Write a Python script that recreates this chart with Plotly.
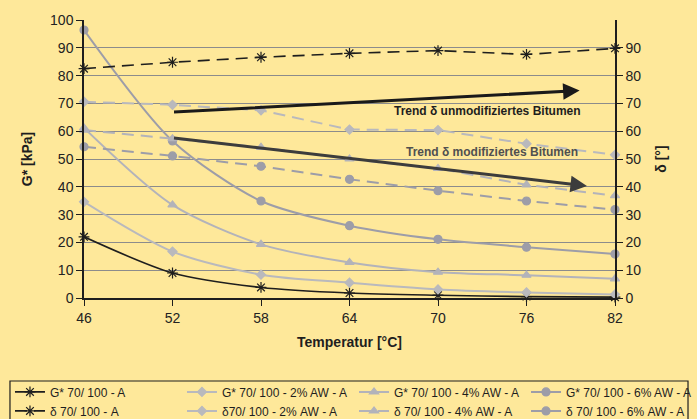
import plotly.graph_objects as go

temps = [46, 52, 58, 64, 70, 76, 82]

g_0 = [22.0, 9.0, 3.8, 1.8, 1.0, 0.5, 0.3]
g_2 = [34.6, 16.7, 8.4, 5.5, 3.1, 2.0, 1.3]
g_4 = [61.2, 33.5, 19.3, 12.8, 9.3, 8.2, 6.9]
g_6 = [96.4, 56.5, 34.9, 26.0, 21.1, 18.3, 15.8]

d_0 = [82.5, 84.8, 86.6, 88.0, 89.0, 87.6, 89.8]
d_2 = [70.6, 69.5, 67.5, 60.6, 60.4, 55.5, 51.5]
d_4 = [60.4, 57.3, 54.2, 50.0, 46.6, 40.7, 36.8]
d_6 = [54.4, 51.1, 47.4, 42.7, 38.6, 34.9, 31.8]

y_ticks_left = [0, 10, 20, 30, 40, 50, 60, 70, 80, 90, 100]
y_ticks_right = [0, 10, 20, 30, 40, 50, 60, 70, 80, 90]

names_g = ["G* 70/ 100 - A", "G* 70/ 100 - 2% AW - A", "G* 70/ 100 - 4% AW - A", "G* 70/ 100 - 6% AW - A"]
names_d = ["δ 70/ 100 - A", "δ70/ 100 - 2% AW - A", "δ 70/ 100 - 4% AW - A", "δ 70/ 100 - 6% AW - A"]
groups = ["p0", "p2", "p4", "p6"]
legend_ids = ["legend", "legend", "legend2", "legend2"]

trend_up = {"x0": 52, "y0": 66.9, "x1": 79.6, "y1": 74.6}
trend_down = {"x0": 52, "y0": 57.6, "x1": 80.1, "y1": 40.3}

BG = "#FEE89A"
C0 = "#1E1E1E"
C2 = "#B9B9BD"
C4 = "#B3B3BA"
C6 = "#9D9DA8"

fig = go.Figure()

styles = [
    (C0, "asterisk-open", 9, 1.6),
    (C2, "diamond", 7, 2),
    (C4, "triangle-up", 8, 2),
    (C6, "circle", 8, 2),
]

for vals, name, grp, lg, (col, sym, size, w) in zip([g_0, g_2, g_4, g_6], names_g, groups, legend_ids, styles):
    fig.add_trace(go.Scatter(
        x=temps, y=vals, name=name, mode="lines+markers", legendgroup=grp, legend=lg,
        line=dict(color=col, width=w, shape="spline", smoothing=0.8),
        marker=dict(symbol=sym, size=size, color=col, line=dict(color=col, width=1.2)),
        cliponaxis=False,
    ))

for vals, name, grp, lg, (col, sym, size, w) in zip([d_0, d_2, d_4, d_6], names_d, groups, legend_ids, styles):
    fig.add_trace(go.Scatter(
        x=temps, y=vals, name=name, mode="lines+markers", yaxis="y2", legendgroup=grp, legend=lg,
        line=dict(color=col, width=w, dash="12px,7px"),
        marker=dict(symbol=sym, size=size, color=col, line=dict(color=col, width=1.2)),
        cliponaxis=False,
    ))

fig.add_annotation(x=trend_up["x1"], y=trend_up["y1"], ax=trend_up["x0"], ay=trend_up["y0"],
                   xref="x", yref="y", axref="x", ayref="y", text="", showarrow=True,
                   arrowhead=2, arrowsize=1.1, arrowwidth=3, arrowcolor="#1A1A1A")
fig.add_annotation(x=trend_down["x1"], y=trend_down["y1"], ax=trend_down["x0"], ay=trend_down["y0"],
                   xref="x", yref="y", axref="x", ayref="y", text="", showarrow=True,
                   arrowhead=2, arrowsize=1.1, arrowwidth=3, arrowcolor="#3C3C3C")
fig.add_annotation(x=79.8, y=67.3, xref="x", yref="y", xanchor="right", yanchor="middle",
                   text="<b>Trend δ unmodifiziertes Bitumen</b>", showarrow=False,
                   font=dict(family="Liberation Sans, Arial", size=12, color="#1E1E1E"))
fig.add_annotation(x=79.6, y=52.6, xref="x", yref="y", xanchor="right", yanchor="middle",
                   text="<b>Trend δ modifiziertes Bitumen</b>", showarrow=False,
                   font=dict(family="Liberation Sans, Arial", size=12, color="#505050"))

# legend frame
fig.add_shape(type="rect", xref="paper", yref="paper", x0=-0.1394, x1=1.1375, y0=-0.2986, y1=-0.6,
              line=dict(color="#1E1E1E", width=1.2), fillcolor="rgba(0,0,0,0)", layer="below")

tickfont = dict(family="Liberation Sans, Arial", size=14, color="#222222")
titlefont = dict(family="Liberation Sans, Arial", size=14, color="#1E1E1E")
legfont = dict(family="Liberation Sans, Arial", size=12, color="#1E1E1E")

leg_common = dict(
    orientation="h", yanchor="top", y=-0.2856, xanchor="left",
    entrywidth=127, entrywidthmode="pixels", itemwidth=30,
    bgcolor="rgba(0,0,0,0)", borderwidth=0, font=legfont,
    traceorder="grouped", tracegroupgap=0,
)

fig.update_layout(
    width=697, height=419,
    margin=dict(l=84, r=82, t=20, b=121, autoexpand=False),
    paper_bgcolor=BG, plot_bgcolor=BG,
    showlegend=True,
    legend=dict(x=-0.1394, **leg_common),
    legend2=dict(x=0.5085, **leg_common),
    xaxis=dict(
        range=[46, 82], tickvals=temps, ticktext=[str(t) for t in temps],
        showgrid=False, zeroline=False, showline=True, linecolor="#1E1E1E", linewidth=2,
        ticks="outside", ticklen=6, tickcolor="#1E1E1E", tickfont=tickfont,
        title=dict(text="<b>Temperatur [°C]</b>", font=titlefont, standoff=12),
    ),
    yaxis=dict(
        range=[0, 100], tickvals=y_ticks_left, showgrid=True, gridcolor="#8C8C8C", gridwidth=1,
        zeroline=False, showline=True, linecolor="#1E1E1E", linewidth=1.5,
        ticks="outside", ticklen=6, tickcolor="#1E1E1E", tickfont=tickfont,
        title=dict(text="<b>G* [kPa]</b>", font=titlefont, standoff=14),
    ),
    yaxis2=dict(
        range=[0, 100], tickvals=y_ticks_right, overlaying="y", side="right",
        showgrid=False, zeroline=False, showline=True, linecolor="#1E1E1E", linewidth=1.5,
        ticks="outside", ticklen=6, tickcolor="#1E1E1E", tickfont=tickfont,
        title=dict(text="<b>δ [°]</b>", font=titlefont, standoff=16),
    ),
)

fig.write_html("out.html", config={"displayModeBar": False},
               post_script="document.body.style.margin='0';document.body.style.background='" + BG + "';")
